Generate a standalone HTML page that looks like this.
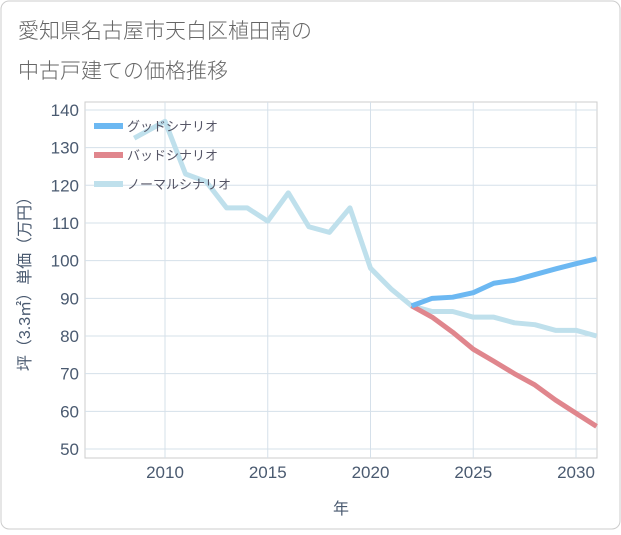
<!DOCTYPE html>
<html><head><meta charset="utf-8"><style>
body{margin:0;background:#fff;font-family:"Liberation Sans","Noto Sans CJK JP",sans-serif;}
#wrap{position:relative;width:621px;height:530px;}
</style></head><body><div id="wrap">
<svg id="c" width="621" height="530" xmlns="http://www.w3.org/2000/svg">
<rect x="1" y="1" width="619" height="528" rx="8" fill="#fff" stroke="#ccc"/>
<text x="18" y="38" font-size="21" fill="#666" font-weight="300">愛知県名古屋市天白区植田南の</text>
<text x="18" y="78" font-size="21" fill="#666" font-weight="300">中古戸建ての価格推移</text>
<g id="grid"></g><g id="series"></g><g id="legend"></g>
<text x="341" y="514" font-size="16" fill="#4a5a70" text-anchor="middle">年</text>
<text transform="translate(30,280) rotate(-90)" font-size="16" fill="#4a5a70" text-anchor="middle">坪（3.3㎡）単価（万円）</text>
</svg></div>
<script>
const xTicks=[2010,2015,2020,2025,2030];
const yTicks=[50,60,70,80,90,100,110,120,130,140];
const normalYears=[2008.5,2009,2010,2011,2012,2013,2014,2015,2016,2017,2018,2019,2020,2021,2022,2023,2024,2025,2026,2027,2028,2029,2030,2031];
const normalVals=[132.5,134,137,123,121,114,114,110.5,118,109,107.5,114,98,92.5,88,86.5,86.5,85,85,83.5,83,81.5,81.5,80];
const futureYears=[2022,2023,2024,2025,2026,2027,2028,2029,2030,2031];
const goodVals=[88,90,90.3,91.5,94,94.8,96.3,97.8,99.2,100.5];
const badVals=[88,85,81,76.5,73.3,70,67,63,59.5,56];
const NS='http://www.w3.org/2000/svg';
const L=85,R=597,T=102,B=458;
const xs=y=>165+(y-2010)*20.55;
const ys=v=>449-(v-50)*3.767;
function mk(tag,attrs,parent){const e=document.createElementNS(NS,tag);for(const k in attrs)e.setAttribute(k,attrs[k]);parent.appendChild(e);return e;}
const g=document.getElementById('grid');
const pa=mk('rect',{x:L,y:T,width:R-L,height:B-T,fill:'none',stroke:'#ccc'},g);


yTicks.forEach(v=>{
 const l=mk('line',{x1:L,x2:R,y1:ys(v),y2:ys(v),stroke:'#d5e0ea'},g);
 
 
 const t=mk('text',{x:79,y:ys(v)+6,'font-size':17,fill:'#4a5a70','text-anchor':'end'},g);t.textContent=v;
 
 
});
xTicks.forEach(y=>{
 const l=mk('line',{x1:xs(y),x2:xs(y),y1:T,y2:B,stroke:'#d5e0ea'},g);
 
 
 const t=mk('text',{x:xs(y),y:478,'font-size':17,fill:'#4a5a70','text-anchor':'middle'},g);t.textContent=y;
 
 
});
const s=document.getElementById('series');
function line(years,vals,color,name){
 const p=mk('polyline',{points:years.map((y,i)=>xs(y)+','+ys(vals[i])).join(' '),fill:'none',stroke:color,'stroke-width':5,'stroke-linejoin':'round'},s);
 
 
}
line(normalYears,normalVals,'#bfe0ec','normal-line');
line(futureYears,badVals,'#e0868d','bad-line');
line(futureYears,goodVals,'#6cb8f2','good-line');
const lg=document.getElementById('legend');
[['グッドシナリオ','#6cb8f2'],['バッドシナリオ','#e0868d'],['ノーマルシナリオ','#bfe0ec']].forEach((d,i)=>{
 const y=126+i*29;
 const r=mk('rect',{x:94,y:y-3,width:29,height:6,fill:d[1]},lg);
 
 
 const t=mk('text',{x:127,y:y+5,'font-size':13,fill:'#556'},lg);t.textContent=d[0];
 
 
});
</script></body></html>
